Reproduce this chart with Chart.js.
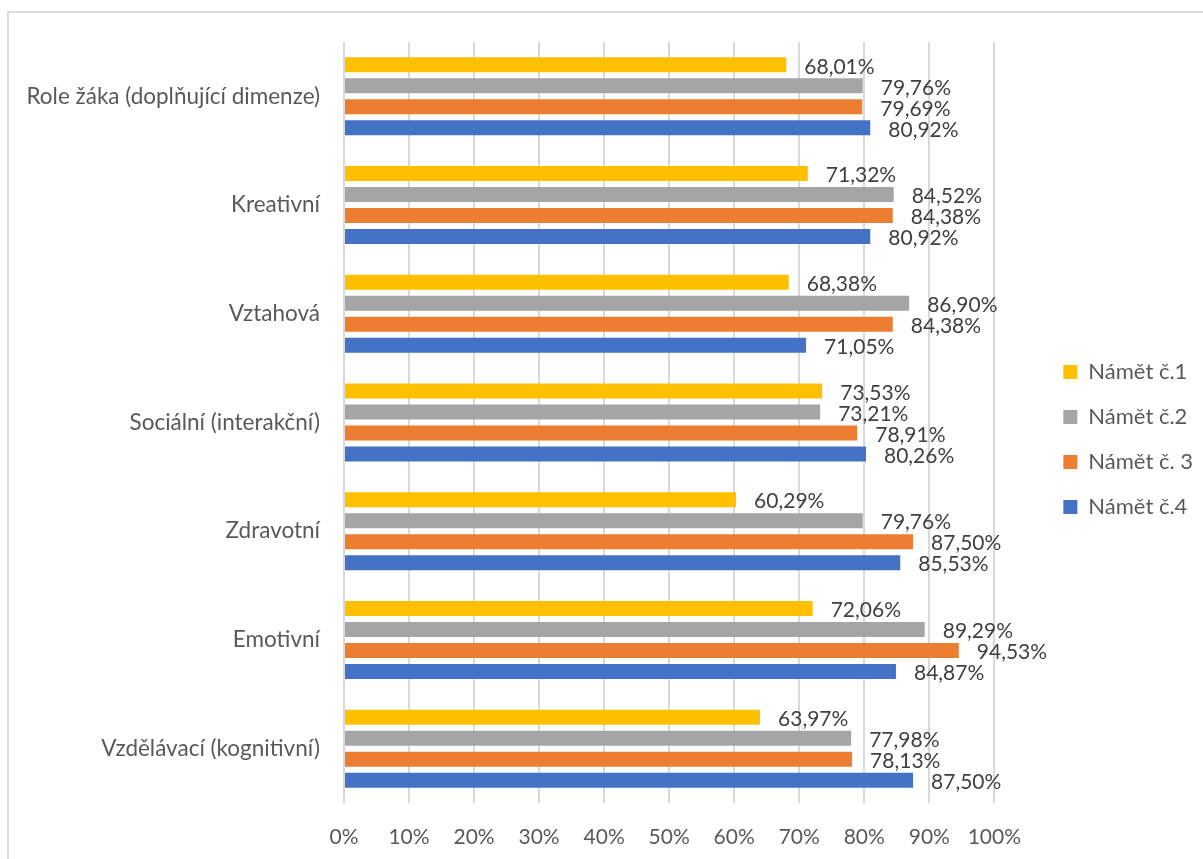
<!DOCTYPE html>
<html>
<head>
<meta charset="utf-8">
<script src="https://cdn.jsdelivr.net/npm/chart.js@4/dist/chart.umd.min.js"></script>
<style>
  html, body { margin: 0; padding: 0; background: #fff; overflow: hidden; }
  #frame { position: absolute; left: 7px; top: 11px; width: 1400px; height: 1000px; border: 2px solid #dcdcdc; }
  #wrap { position: absolute; left: 0; top: 0; width: 1203px; height: 859px; }
</style>
</head>
<body>
<div id="frame"></div>
<div id="wrap"><canvas id="chart"></canvas></div>
<script>
  // categories, top to bottom
  const categories = [
    'Role žáka (doplňující dimenze)',
    'Kreativní',
    'Vztahová',
    'Sociální (interakční)',
    'Zdravotní',
    'Emotivní',
    'Vzdělávací (kognitivní)'
  ];

  const seriesNames = ['Námět č.1', 'Námět č.2', 'Námět č. 3', 'Námět č.4'];
  const seriesColors = ['#FFC000', '#A5A5A5', '#ED7D31', '#4472C4'];

  const namet1 = [68.01, 71.32, 68.38, 73.53, 60.29, 72.06, 63.97];
  const namet2 = [79.76, 84.52, 86.90, 73.21, 79.76, 89.29, 77.98];
  const namet3 = [79.69, 84.38, 84.38, 78.91, 87.50, 94.53, 78.13];
  const namet4 = [80.92, 80.92, 71.05, 80.26, 85.53, 84.87, 87.50];

  const xTicks = [0, 10, 20, 30, 40, 50, 60, 70, 80, 90, 100];

  const FONT = 'Lato, "Open Sans", sans-serif';

  // value labels at bar ends
  const barLabels = {
    id: 'barLabels',
    afterDatasetsDraw(chart) {
      const ctx = chart.ctx;
      ctx.save();
      ctx.font = '21px ' + FONT;
      ctx.fillStyle = '#404040';
      ctx.textAlign = 'left';
      ctx.textBaseline = 'middle';
      chart.data.datasets.forEach((ds, i) => {
        chart.getDatasetMeta(i).data.forEach((bar, j) => {
          const txt = ds.data[j].toFixed(2).replace('.', ',') + '%';
          ctx.fillText(txt, bar.x + 18, bar.y + 2);
        });
      });
      ctx.restore();
    }
  };

  new Chart(document.getElementById('chart'), {
    type: 'bar',
    data: {
      labels: categories,
      datasets: [namet1, namet2, namet3, namet4].map((d, i) => ({
        label: seriesNames[i],
        data: d,
        backgroundColor: seriesColors[i],
        categoryPercentage: 0.773,
        barPercentage: 0.714
      }))
    },
    options: {
      indexAxis: 'y',
      responsive: true,
      maintainAspectRatio: false,
      animation: false,
      layout: { padding: { top: 42, bottom: 0, left: 0, right: 0 } },
      scales: {
        x: {
          min: 0,
          max: 100,
          afterBuildTicks: s => { s.ticks = xTicks.map(v => ({ value: v })); },
          afterFit: s => { s.height = 56; },
          grid: { color: '#d9d9d9', lineWidth: 2, drawTicks: false },
          border: { display: false },
          ticks: {
            padding: 22,
            color: '#595959',
            font: { family: FONT, size: 21 },
            callback: v => v + '%'
          }
        },
        y: {
          afterFit: s => { s.width = 344; },
          grid: { display: false, drawTicks: false },
          border: { display: false },
          ticks: {
            padding: 24,
            color: '#595959',
            font: { family: FONT, size: 22.5 }
          }
        },
        gap: {
          type: 'category',
          position: 'right',
          afterFit: s => { s.width = 46; },
          grid: { display: false, drawTicks: false },
          border: { display: false },
          ticks: { display: false }
        }
      },
      plugins: {
        legend: {
          position: 'right',
          fullSize: false,
          title: { display: true, text: '', font: { size: 10 }, padding: 11 },
          labels: {
            boxWidth: 14,
            boxHeight: 14,
            padding: 23,
            color: '#595959',
            font: { family: FONT, size: 22 }
          }
        },
        tooltip: { enabled: false }
      }
    },
    plugins: [barLabels]
  });
</script>
</body>
</html>
